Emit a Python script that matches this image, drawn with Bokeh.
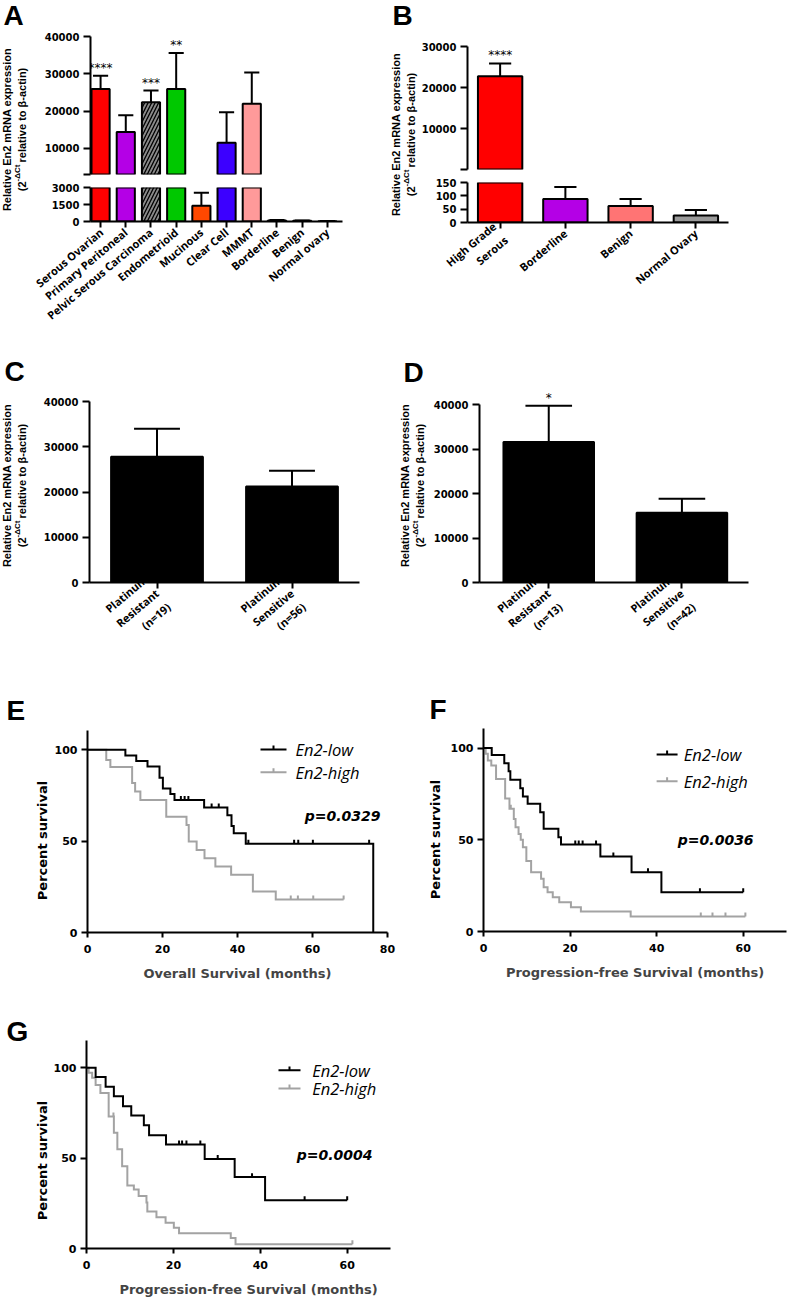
import math
import numpy as np
from bokeh.plotting import figure
from bokeh.models import Range1d, FixedTicker, Spacer, ColumnDataSource
from bokeh.layouts import row, column
from bokeh.embed import file_html
from bokeh.resources import INLINE
from bokeh.core.properties import value

# ================= DATA =================
a_categories = ["Serous Ovarian", "Primary Peritoneal", "Pelvic Serous Carcinoma",
                "Endometrioid", "Mucinous", "Clear Cell", "MMMT",
                "Borderline", "Benign", "Normal ovary"]
a_mean = [25900, 14400, 22400, 25900, 1400, 11500, 22000, 88, 62, 26]
a_sem = [3600, 4500, 3100, 9700, 1130, 8200, 8350, 45, 26, 21]
a_stars = ["****", "", "***", "**", "", "", "", "", "", ""]
a_upper_ticks = [3000, 10000, 20000, 30000, 40000]
a_lower_ticks = [0, 1500, 3000]

b_categories = ["High Grade\nSerous", "Borderline", "Benign", "Normal Ovary"]
b_mean = [22800, 88, 62, 26]
b_sem = [3100, 45, 26, 21]
b_stars = ["****", "", "", ""]
b_upper_ticks = [150, 10000, 20000, 30000]
b_lower_ticks = [0, 50, 100, 150]

c_categories = ["Platinum\nResistant\n(n=19)", "Platinum\nSensitive\n(n=56)"]
c_mean = [27800, 21200]
c_sem = [6200, 3500]

d_categories = ["Platinum\nResistant\n(n=13)", "Platinum\nSensitive\n(n=42)"]
d_mean = [31600, 15700]
d_sem = [8100, 3100]
d_stars = ["*", ""]
cd_ticks = [0, 10000, 20000, 30000, 40000]

# Kaplan-Meier curves: time (months) at which survival (%) changes
e_low_time = [0, 10.1, 13.0, 16.0, 19.2, 20.1, 22.1, 23.2, 31.1, 37.3, 38.4, 39.0, 42.2, 76.2]
e_low_surv = [100, 96.9, 93.9, 90.9, 84.7, 78.8, 75.9, 72.6, 68.4, 64.2, 58.3, 54.3, 48.6, 0]
e_low_cens = [24.9, 25.9, 26.9, 33.1, 35.0, 42.9, 55.1, 56.2, 60.1, 75.1]
e_high_time = [0, 5.0, 6.1, 11.9, 12.7, 14.1, 21.0, 26.4, 27.0, 29.1, 31.2, 34.1, 38.3, 44.1, 50.2, 68.3]
e_high_surv = [100, 94.5, 90.6, 81.8, 77.2, 72.5, 63.4, 58.8, 49.8, 45.2, 40.7, 36.1, 31.6, 22.5, 18.0, 18.0]
e_high_cens = [54.2, 56.1, 60.2, 68.3]

f_low_time = [0, 1.9, 4.8, 5.8, 6.2, 8.5, 9.1, 10.2, 13.1, 13.9, 17.3, 17.9, 27.0, 34.2, 41.1, 60.0]
f_low_surv = [100, 96.3, 91.8, 87.4, 82.7, 78.1, 73.6, 69.6, 65.0, 56.0, 51.4, 47.4, 40.9, 32.3, 21.4, 21.4]
f_low_cens = [21.2, 22.0, 22.9, 26.0, 30.0, 38.0, 50.0, 60.0]
f_high_time = [0, 0.5, 1.0, 1.8, 2.9, 5.0, 6.0, 7.0, 7.4, 8.1, 8.6, 9.1, 9.9, 11.0, 13.3, 13.9, 14.8,
               16.0, 17.5, 20.2, 22.5, 34.0, 60.5]
f_high_surv = [100, 96.9, 93.2, 90.5, 83.2, 72.5, 66.9, 61.4, 56.8, 53.2, 50.0, 45.9, 38.5, 32.3, 28.7,
               24.1, 21.4, 18.7, 15.9, 13.2, 10.9, 8.2, 8.2]
f_high_cens = [6.3, 50.2, 52.9, 55.9, 60.5]

g_low_time = [0, 2.1, 4.4, 6.3, 8.4, 10.3, 13.2, 14.4, 18.3, 27.2, 34.1, 41.1, 60.0]
g_low_surv = [100, 94.9, 89.5, 84.2, 78.7, 73.6, 68.2, 62.7, 57.6, 49.5, 39.5, 26.7, 26.7]
g_low_cens = [21.3, 22.0, 23.0, 26.2, 30.2, 38.1, 50.2, 60.0]
g_high_time = [0, 0.5, 1.3, 2.1, 3.2, 5.1, 6.3, 7.1, 8.2, 9.4, 10.9, 12.0, 13.8, 14.0, 16.1, 18.2,
               20.1, 21.3, 33.2, 34.3, 61.2]
g_high_surv = [100, 97.3, 94.5, 90.5, 86.0, 73.1, 64.0, 54.9, 45.5, 34.9, 32.7, 29.1, 25.5, 20.5, 17.3,
               14.2, 11.5, 8.5, 5.8, 2.4, 2.4]
g_high_cens = [6.2, 61.2]

km_yticks = [0, 50, 100]
e_xticks = [0, 20, 40, 60, 80]
fg_xticks = [0, 20, 40, 60]
e_pvalue = "p=0.0329"
f_pvalue = "p=0.0036"
g_pvalue = "p=0.0004"
legend_labels = ["En2-low", "En2-high"]

# ================= STYLE =================
a_colors = ["#ff0000", "#b400e6", "#8a8a8a", "#00c800", "#ff4800", "#3c00ff", "#ff9a9a",
            "#b400e6", "#ff7474", "#9a9a9a"]
a_hatch = [" ", " ", "/", " ", " ", " ", " ", " ", " ", " "]
b_colors = ["#ff0000", "#b400e6", "#ff7474", "#9a9a9a"]
KM_LOW = "#000000"
KM_HIGH = "#a3a3a3"
NUM_FONT = "DejaVu Sans"
CAT_FONT = "Open Sans"
LAB_FONT = "Liberation Sans"
CAT_ANGLE = 0.70


class Mapper:
    def __init__(self, frame, xr, yr):
        self.fx0, self.fy0, self.fx1, self.fy1 = frame
        self.xr, self.yr = xr, yr

    def dx(self, px):
        return px * (self.xr[1] - self.xr[0]) / (self.fx1 - self.fx0)

    def dy(self, py):
        return py * (self.yr[1] - self.yr[0]) / (self.fy1 - self.fy0)

    def x(self, px):
        return self.xr[0] + self.dx(px - self.fx0)

    def y(self, py):
        return self.yr[0] + self.dy(self.fy1 - py)


def style_axis(ax, size="10px", font=NUM_FONT, tick_out=7):
    ax.axis_line_width = 2
    ax.axis_line_color = "black"
    ax.major_tick_line_width = 2
    ax.major_tick_line_color = "black"
    ax.major_tick_out = tick_out
    ax.major_tick_in = 0
    ax.minor_tick_line_color = None
    ax.major_label_text_font = font
    ax.major_label_text_font_style = "bold"
    ax.major_label_text_font_size = size
    ax.major_label_text_color = "black"
    ax.major_label_standoff = 4


def make_plot(fig_box, frame_box, xr, yr, x_axis=True, y_axis=True):
    X0, Y0, X1, Y1 = fig_box
    fx0, fy0, fx1, fy1 = frame_box
    p = figure(width=X1 - X0, height=Y1 - Y0,
               x_range=Range1d(*xr), y_range=Range1d(*yr),
               x_axis_location="below" if x_axis else None,
               y_axis_location="left" if y_axis else None,
               min_border_left=fx0 - X0, min_border_right=X1 - fx1,
               min_border_top=fy0 - Y0, min_border_bottom=Y1 - fy1,
               output_backend="svg", toolbar_location=None)
    p.grid.visible = False
    p.outline_line_color = None
    p.background_fill_color = "white"
    p.border_fill_color = "white"
    for ax in p.axis:
        style_axis(ax)
    return p, Mapper(frame_box, xr, yr)


def make_label_fig(box):
    X0, Y0, X1, Y1 = box
    p = figure(width=X1 - X0, height=Y1 - Y0, x_range=Range1d(X0, X1), y_range=Range1d(Y1, Y0),
               x_axis_location=None, y_axis_location=None, min_border=0,
               min_border_left=0, min_border_right=0, min_border_top=0, min_border_bottom=0,
               output_backend="svg", toolbar_location=None)
    p.grid.visible = False
    p.outline_line_color = None
    p.background_fill_color = "white"
    p.border_fill_color = "white"
    return p


def solo(p):
    # wrap a figure so that its frame is not aligned with its neighbours' frames
    return column(p, spacing=0)


def panel_letter(p, x, yc, letter):
    p.text(x=[x], y=[yc], text=[letter], text_font=value(LAB_FONT), text_font_style="bold",
           text_font_size=value("28px"), text_align="left", text_baseline="middle",
           text_color="black")


def ylabel_expression(p, x1, x2, yc):
    common = dict(text_font=value(LAB_FONT), text_font_style="bold", angle=math.pi / 2,
                  text_color="black", text_baseline="middle")
    p.text(x=[x1], y=[yc], text=["Relative En2 mRNA expression"], text_align="center",
           text_font_size=value("11px"), **common)
    wA, wS, gap, wC = 9.8, 16.5, 2.5, 94.7
    total = wA + wS + gap + wC
    j = yc + total / 2 - wA
    p.text(x=[x2], y=[j], text=["(2"], text_align="right", text_font_size=value("11px"), **common)
    p.text(x=[x2 - 4.5], y=[j], text=["-\u0394Ct"], text_align="left",
           text_font_size=value("8px"), **common)
    p.text(x=[x2], y=[j - wS - gap], text=["relative to \u03b2-actin)"], text_align="left",
           text_font_size=value("11px"), **common)


def ylabel_percent(p, x, yc):
    p.text(x=[x], y=[yc], text=["Percent survival"], angle=math.pi / 2, text_align="center",
           text_baseline="middle", text_font=value(NUM_FONT), text_font_style="bold",
           text_font_size=value("13px"), text_color="black")


def draw_bars(p, m, means, sems, colors, width, cap, bottom, hatch=None, stars=None, vmin=None):
    n = len(means)
    keep = [i for i in range(n) if vmin is None or means[i] > vmin]
    x = [i for i in keep]
    mv = [means[i] for i in keep]
    tops = [means[i] + sems[i] for i in keep]
    src = ColumnDataSource(dict(x=x, top=mv, bottom=[bottom] * len(keep),
                                color=[colors[i] for i in keep],
                                hatch=[(hatch[i] if hatch else " ") for i in keep]))
    p.vbar(x="x", top="top", bottom="bottom", width=width, fill_color="color",
           line_color="black", line_width=2, hatch_pattern="hatch", hatch_color="black",
           hatch_scale=7, hatch_weight=1.3, source=src)
    p.segment(x0=x, y0=mv, x1=x, y1=tops, line_color="black", line_width=2)
    p.segment(x0=[i - cap / 2 for i in x], y0=tops, x1=[i + cap / 2 for i in x], y1=tops,
              line_color="black", line_width=2)
    if stars:
        p.text(x=x, y=[t + m.dy(8) for t in tops], text=[stars[i] for i in keep],
               text_align="center", text_baseline="middle", text_font=value(NUM_FONT),
               text_font_size=value("12px"), text_color="black")


def cat_axis(p, cats, size="11px"):
    ax = p.xaxis[0]
    ax.ticker = FixedTicker(ticks=list(range(len(cats))), minor_ticks=[])
    ax.major_label_overrides = {i: c for i, c in enumerate(cats)}
    ax.major_label_orientation = CAT_ANGLE
    ax.major_label_text_font = CAT_FONT
    ax.major_label_text_font_size = size
    ax.major_tick_out = 6
    ax.major_label_standoff = 3


def y_ticks(p, ticks, overrides=None):
    ax = p.yaxis[0]
    ax.ticker = FixedTicker(ticks=ticks, minor_ticks=[])
    if overrides:
        ax.major_label_overrides = overrides


# ================= PANEL A =================
labA = make_label_fig((0, 0, 32, 345))
panel_letter(labA, 3, 15, "A")
ylabel_expression(labA, 6, 21, 129)

a_xr = (-0.4, 9.6)
a_up, m_aup = make_plot((32, 0, 390, 180), (90, 36, 342, 174), a_xr, (3000, 40000), x_axis=False)
y_ticks(a_up, a_upper_ticks, {3000: ""})
draw_bars(a_up, m_aup, a_mean, a_sem, a_colors, 0.72, 0.6, 0, hatch=a_hatch, stars=a_stars, vmin=3000)

a_lo, m_alo = make_plot((32, 180, 390, 345), (90, 187, 342, 221), a_xr, (0, 3000))
y_ticks(a_lo, a_lower_ticks)
cat_axis(a_lo, a_categories)
draw_bars(a_lo, m_alo, a_mean, a_sem, a_colors, 0.72, 0.6, 0, hatch=a_hatch)

# ================= PANEL B =================
labB = make_label_fig((390, 0, 418, 345))
panel_letter(labB, 392, 14.5, "B")
ylabel_expression(labB, 395, 410, 134)

b_xr = (-0.5, 3.5)
b_up, m_bup = make_plot((418, 0, 787, 176), (464, 46, 728, 169), b_xr, (150, 30000), x_axis=False)
y_ticks(b_up, b_upper_ticks, {150: ""})
draw_bars(b_up, m_bup, b_mean, b_sem, b_colors, 0.68, 0.34, 0, stars=b_stars, vmin=150)

b_lo, m_blo = make_plot((418, 176, 787, 345), (464, 182, 728, 222), b_xr, (0, 150))
y_ticks(b_lo, b_lower_ticks)
cat_axis(b_lo, b_categories)
draw_bars(b_lo, m_blo, b_mean, b_sem, b_colors, 0.68, 0.34, 0)

# ================= PANEL C =================
labC = make_label_fig((0, 345, 40, 690))
panel_letter(labC, 4, 371, "C")
ylabel_expression(labC, 6, 21, 485)

c_p, m_c = make_plot((40, 345, 390, 690), (88, 401, 359, 582), (-0.5, 1.5), (0, 40000))
y_ticks(c_p, cd_ticks)
cat_axis(c_p, c_categories)
draw_bars(c_p, m_c, c_mean, c_sem, ["black"] * 2, 0.68, 0.34, 0)

# ================= PANEL D =================
labD = make_label_fig((390, 345, 430, 690))
panel_letter(labD, 403, 372, "D")
ylabel_expression(labD, 404, 419, 485)

d_p, m_d = make_plot((430, 345, 787, 690), (477, 380, 748, 582), (-0.52, 1.5), (0, 45400))
y_ticks(d_p, cd_ticks)
d_p.yaxis[0].bounds = (0, 40000)
cat_axis(d_p, d_categories)
draw_bars(d_p, m_d, d_mean, d_sem, ["black"] * 2, 0.68, 0.35, 0, stars=d_stars)


# ================= KM PANELS =================
def step_value(times, surv, t):
    idx = int(np.searchsorted(times, t, side="right")) - 1
    return surv[idx]


def km_curve(p, m, times, surv, cens, color):
    p.step(times, surv, mode="after", line_color=color, line_width=2, line_join="miter")
    cy = [step_value(times, surv, c) for c in cens]
    p.segment(x0=cens, y0=cy, x1=cens, y1=[v + m.dy(4) for v in cy], line_color=color, line_width=2)


def km_legend(p, m, lx0, lx1, ly_low, ly_high, tx):
    for ly, col, lab in [(ly_low, KM_LOW, legend_labels[0]), (ly_high, KM_HIGH, legend_labels[1])]:
        p.segment(x0=[m.x(lx0)], y0=[m.y(ly)], x1=[m.x(lx1)], y1=[m.y(ly)], line_color=col, line_width=2)
        xm = m.x((lx0 + lx1) / 2)
        p.segment(x0=[xm], y0=[m.y(ly)], x1=[xm], y1=[m.y(ly - 4)], line_color=col, line_width=2)
        p.text(x=[m.x(tx)], y=[m.y(ly)], text=[lab], text_font=value(CAT_FONT), text_font_style="italic",
               text_font_size=value("16.5px"), text_align="left", text_baseline="middle", text_color="black")


def km_pvalue(p, m, txt, px, py):
    p.text(x=[m.x(px)], y=[m.y(py)], text=[txt], text_font=value(NUM_FONT), text_font_style="bold italic",
           text_font_size=value("14px"), text_align="right", text_baseline="middle", text_color="black")


def km_plot(fig_box, frame_box, xr, yr, xticks, xlabel):
    p, m = make_plot(fig_box, frame_box, xr, yr)
    p.xaxis[0].ticker = FixedTicker(ticks=xticks, minor_ticks=[])
    p.yaxis[0].ticker = FixedTicker(ticks=km_yticks, minor_ticks=[])
    p.xaxis[0].major_tick_out = 5
    p.xaxis[0].major_label_standoff = 7
    p.yaxis[0].major_tick_out = 6
    for ax in p.axis:
        ax.major_label_text_font_size = "11px"
    p.xaxis[0].axis_label = xlabel
    p.xaxis[0].axis_label_text_font = NUM_FONT
    p.xaxis[0].axis_label_text_font_style = "bold"
    p.xaxis[0].axis_label_text_font_size = "13px"
    p.xaxis[0].axis_label_standoff = 10
    return p, m


labE = make_label_fig((0, 690, 50, 1000))
panel_letter(labE, 6, 710, "E")
ylabel_percent(labE, 41.5, 840)
e_p, m_e = km_plot((50, 690, 400, 1000), (87, 730, 387, 932), (0, 80), (0, 110.6), e_xticks,
                   "Overall Survival (months)")
km_curve(e_p, m_e, e_high_time, e_high_surv, e_high_cens, KM_HIGH)
km_curve(e_p, m_e, e_low_time, e_low_surv, e_low_cens, KM_LOW)
km_legend(e_p, m_e, 260, 286, 749, 771.7, 295)
km_pvalue(e_p, m_e, e_pvalue, 380, 815)

labF = make_label_fig((400, 690, 447, 1000))
panel_letter(labF, 429, 708.5, "F")
ylabel_percent(labF, 435, 839)
f_p, m_f = km_plot((447, 690, 787, 1000), (482, 728, 786, 931), (0, 70.0), (0, 110.7), fg_xticks,
                   "Progression-free Survival (months)")
km_curve(f_p, m_f, f_high_time, f_high_surv, f_high_cens, KM_HIGH)
km_curve(f_p, m_f, f_low_time, f_low_surv, f_low_cens, KM_LOW)
km_legend(f_p, m_f, 655.7, 676.7, 754, 780.7, 683)
km_pvalue(f_p, m_f, f_pvalue, 753, 839.3)

labG = make_label_fig((0, 1000, 50, 1299))
panel_letter(labG, 6, 1030.5, "G")
ylabel_percent(labG, 41.5, 1160)
g_p, m_g = km_plot((50, 1000, 420, 1299), (86, 1040, 410, 1251), (0, 74.57), (0, 115.1), fg_xticks,
                   "Progression-free Survival (months)")
g_p.xaxis[0].bounds = (0, 70)
km_curve(g_p, m_g, g_high_time, g_high_surv, g_high_cens, KM_HIGH)
km_curve(g_p, m_g, g_low_time, g_low_surv, g_low_cens, KM_LOW)
km_legend(g_p, m_g, 278, 300, 1070.3, 1088.7, 311.7)
km_pvalue(g_p, m_g, g_pvalue, 372, 1156.3)

# ================= LAYOUT =================
row1 = row(solo(labA), column(a_up, a_lo, spacing=0), solo(labB), column(b_up, b_lo, spacing=0), spacing=0)
row2 = row(solo(labC), solo(c_p), solo(labD), solo(d_p), spacing=0)
row3 = row(solo(labE), solo(e_p), solo(labF), solo(f_p), spacing=0)
row4 = row(solo(labG), solo(g_p), Spacer(width=367, height=299), spacing=0)
layout = column(row1, row2, row3, row4, spacing=0)

open("out.html", "w").write(file_html(layout, INLINE))
